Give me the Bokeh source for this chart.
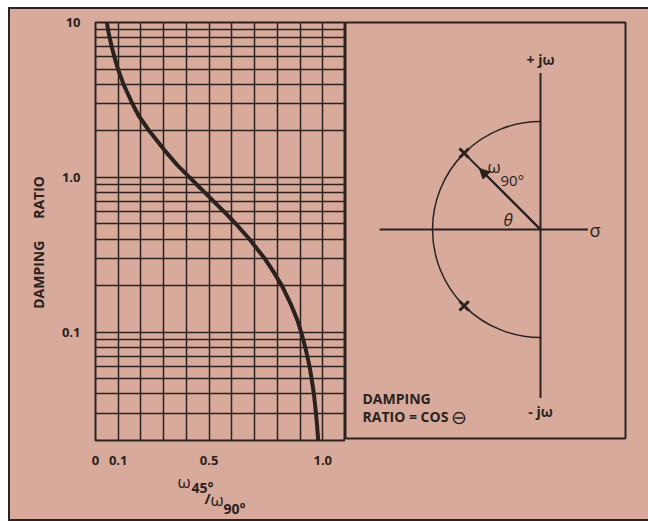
import math
from bokeh.plotting import figure
from bokeh.models import FixedTicker, Label, Arrow, NormalHead, Range1d
from bokeh.layouts import row, column
from bokeh.embed import file_html
from bokeh.resources import INLINE

# ---------------- data ----------------
damping_ratio = [10, 9, 8, 7, 6, 5, 4, 3, 2.5, 2, 1.5, 1.2, 1.0, 0.9, 0.8, 0.7, 0.6,
                 0.5, 0.4, 0.3, 0.25, 0.2, 0.15, 0.12, 0.1, 0.08, 0.06, 0.05, 0.04,
                 0.03, 0.025, 0.02]
freq_ratio = [0.050, 0.055, 0.062, 0.071, 0.083, 0.099, 0.123, 0.162, 0.19, 0.236,
              0.303, 0.36, 0.414, 0.445, 0.48, 0.52, 0.566, 0.618, 0.677, 0.744,
              0.78, 0.82, 0.861, 0.888, 0.905, 0.923, 0.942, 0.951, 0.961, 0.970,
              0.975, 0.980]

x_major_ticks = [0, 0.1, 0.5, 1.0]
x_tick_labels = ["0", "0.1", "0.5", "1.0"]
x_minor_ticks = [0.2, 0.3, 0.4, 0.6, 0.7, 0.8, 0.9, 1.1]
y_major_ticks = [0.1, 1, 10]
y_tick_labels = ["0.1", "1.0", "10"]
y_minor_ticks = [0.02, 0.03, 0.04, 0.05, 0.06, 0.07, 0.08, 0.09,
                 0.2, 0.3, 0.4, 0.5, 0.6, 0.7, 0.8, 0.9,
                 2, 3, 4, 5, 6, 7, 8, 9]

# s-plane sketch
pole_theta_deg = 45          # angle of the poles from the negative real axis
pole_radius = 1.0            # |s| = omega_90
sigma_axis = [-1.49, 0.44]   # extent of the real axis
jw_axis = [-1.56, 1.45]      # extent of the imaginary axis

INK = "#2b2220"
PINK = "#d8aa9b"
FONT = "Open Sans"
NB = "\u00a0"

# ---------------- left: damping ratio chart ----------------
p1 = figure(width=335, height=461, y_axis_type="log",
            x_range=Range1d(0, 1.1), y_range=Range1d(0.02, 10),
            output_backend="svg", toolbar_location=None,
            min_border_left=85, min_border_right=0,
            min_border_top=13, min_border_bottom=30,
            background_fill_color=PINK, border_fill_color=PINK,
            outline_line_color=INK, outline_line_width=2)

p1.xaxis.ticker = FixedTicker(ticks=x_major_ticks, minor_ticks=x_minor_ticks)
p1.yaxis.ticker = FixedTicker(ticks=y_major_ticks, minor_ticks=y_minor_ticks)
p1.xaxis.major_label_overrides = {t: l for t, l in zip(x_major_ticks, x_tick_labels)}
p1.yaxis.major_label_overrides = {t: l for t, l in zip(y_major_ticks, y_tick_labels)}

for ax in p1.axis:
    ax.axis_line_color = None
    ax.major_tick_line_color = None
    ax.minor_tick_line_color = None
    ax.major_label_text_font = FONT
    ax.major_label_text_font_size = "13px"
    ax.major_label_text_font_style = "bold"
    ax.major_label_text_color = INK
p1.xaxis.major_label_standoff = 9
p1.yaxis.major_label_standoff = 9
# non-breaking spaces give the wide word gap and push the title a little down
p1.yaxis.axis_label = "DAMPING" + NB * 6 + "RATIO" + NB * 6
p1.yaxis.axis_label_text_font = FONT
p1.yaxis.axis_label_text_font_size = "14px"
p1.yaxis.axis_label_text_font_style = "bold"
p1.yaxis.axis_label_text_color = INK
p1.yaxis.axis_label_standoff = 11

for g in p1.grid:
    g.grid_line_color = INK
    g.grid_line_width = 1.5
    g.grid_line_alpha = 1
    g.minor_grid_line_color = INK
    g.minor_grid_line_width = 1.5
    g.minor_grid_line_alpha = 1

p1.line(freq_ratio, damping_ratio, line_width=4, line_color=INK)


def lab(fig, x, y, text, size, align="left", style="bold"):
    fig.add_layout(Label(x=x, y=y, text=text, text_font=FONT, text_font_size=size,
                         text_color=INK, text_align=align, text_baseline="middle",
                         text_font_style=style))


# ---------------- x-axis title strip under the chart ----------------
# its frame lines up with the chart frame (page x 95..345, y 470..519)
pl = figure(width=335, height=49, x_range=Range1d(95, 345), y_range=Range1d(519, 470),
            output_backend="svg", toolbar_location=None,
            x_axis_location=None, y_axis_location=None,
            min_border_left=85, min_border_right=0, min_border_top=0, min_border_bottom=0,
            background_fill_color=PINK, border_fill_color=PINK, outline_line_color=None)
pl.grid.visible = False
lab(pl, 177, 481, "ω", "17px", style="normal")
lab(pl, 191, 487, "45°", "14px")
lab(pl, 204, 497, "/", "15px")
lab(pl, 210, 499, "ω", "17px", style="normal")
lab(pl, 223, 508, "90°", "14px")

# ---------------- right: s-plane sketch ----------------
S = 108.0  # pixels per unit


def rx(px):
    return (px - 540) / S


def ry(py):
    return (229 - py) / S


p2 = figure(width=303, height=510,
            x_range=Range1d(rx(345), rx(625)), y_range=Range1d(ry(438), ry(22)),
            output_backend="svg", toolbar_location=None,
            x_axis_location=None, y_axis_location=None,
            min_border_left=0, min_border_right=23,
            min_border_top=13, min_border_bottom=81,
            background_fill_color=PINK, border_fill_color=PINK,
            outline_line_color=INK, outline_line_width=2)
p2.grid.visible = False

p2.segment(x0=[sigma_axis[0]], y0=[0], x1=[sigma_axis[1]], y1=[0],
           line_color=INK, line_width=2)
p2.segment(x0=[0], y0=[jw_axis[0]], x1=[0], y1=[jw_axis[1]],
           line_color=INK, line_width=2)
p2.arc(x=[0], y=[0], radius=pole_radius, start_angle=math.pi / 2,
       end_angle=3 * math.pi / 2, line_color=INK, line_width=1.5)

ang = math.radians(180 - pole_theta_deg)
px_ = [pole_radius * math.cos(ang), pole_radius * math.cos(ang)]
py_ = [pole_radius * math.sin(ang), -pole_radius * math.sin(ang)]
p2.scatter(px_, py_, marker="x", size=13, line_color=INK, line_width=3)
p2.segment(x0=[0], y0=[0], x1=[px_[0]], y1=[py_[0]], line_color=INK, line_width=2)
p2.add_layout(Arrow(end=NormalHead(size=10, fill_color=INK, line_color=INK),
                    x_start=0, y_start=0, x_end=0.8 * px_[0], y_end=0.8 * py_[0],
                    line_color=INK, line_width=2))

lab(p2, 0, ry(59), "+ jω", "14px", align="center")
lab(p2, 0, ry(411), "- jω", "14px", align="center")
lab(p2, rx(589), 0, "σ", "18px", style="normal")
lab(p2, rx(487), ry(166), "ω", "17px", style="normal")
lab(p2, rx(500), ry(179), "90°", "15px", style="normal")
lab(p2, rx(503), ry(219), "θ", "17px", style="italic")
lab(p2, rx(362), ry(398), "DAMPING", "14px")
lab(p2, rx(362), ry(416), "RATIO = COS", "14px")
lab(p2, rx(450), ry(416), "⊖", "19px", style="normal")

layout = row(column(p1, pl, spacing=0), p2, spacing=0, margin=(7, 0, 0, 8),
             styles={"border-left": "2px solid #2b2220",
                     "border-top": "2px solid #2b2220",
                     "border-bottom": "2px solid #2b2220",
                     "background-color": PINK})

open("out.html", "w").write(file_html(layout, INLINE))
